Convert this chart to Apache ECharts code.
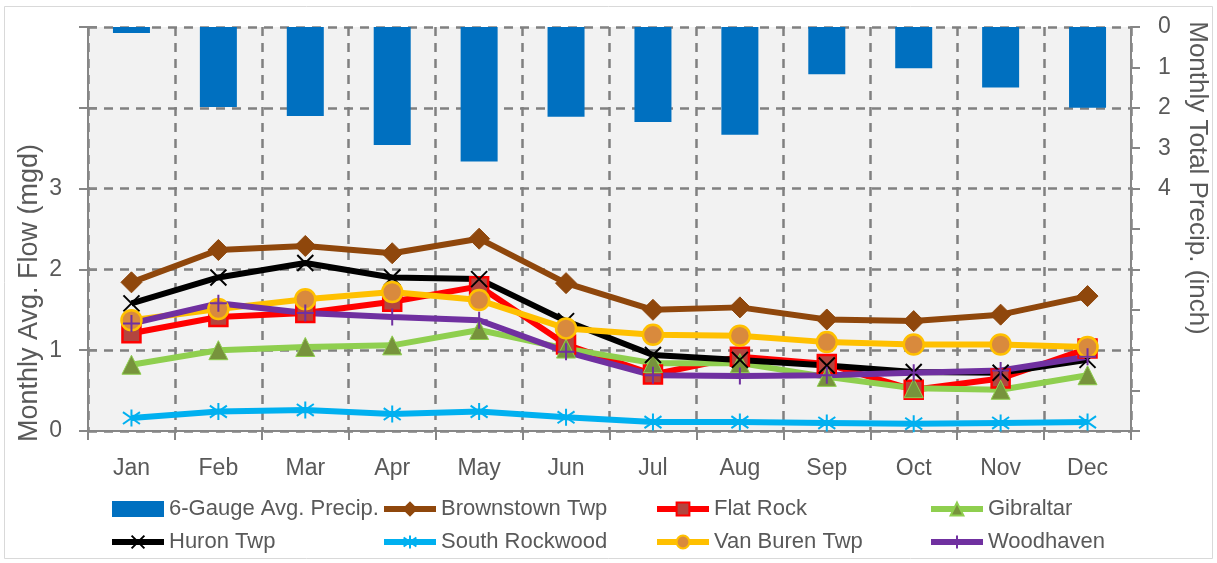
<!DOCTYPE html>
<html>
<head>
<meta charset="utf-8">
<script src="https://cdn.jsdelivr.net/npm/echarts@6/dist/echarts.min.js"></script>
<style>
  html, body { margin: 0; padding: 0; background: #ffffff; }
  #chart { width: 1217px; height: 563px; }
</style>
</head>
<body>
<div id="chart"></div>
<script>
// Months on the category axis
const months = ['Jan', 'Feb', 'Mar', 'Apr', 'May', 'Jun', 'Jul', 'Aug', 'Sep', 'Oct', 'Nov', 'Dec'];

// 6-gauge average monthly precipitation (inch), hanging from the top axis
const precip = [0.15, 1.98, 2.20, 2.92, 3.33, 2.22, 2.35, 2.67, 1.17, 1.02, 1.50, 2.00];

// Monthly average flow by community (mgd)
const brownstown    = [1.84, 2.24, 2.29, 2.20, 2.38, 1.83, 1.50, 1.53, 1.38, 1.36, 1.44, 1.67];
const flatRock      = [1.21, 1.41, 1.46, 1.60, 1.79, 1.07, 0.70, 0.92, 0.83, 0.51, 0.65, 1.02];
const gibraltar     = [0.82, 1.00, 1.04, 1.06, 1.25, 1.02, 0.84, 0.84, 0.67, 0.53, 0.51, 0.69];
const huron         = [1.58, 1.90, 2.08, 1.90, 1.88, 1.36, 0.94, 0.88, 0.81, 0.73, 0.72, 0.88];
const southRockwood = [0.16, 0.24, 0.26, 0.21, 0.24, 0.17, 0.11, 0.11, 0.10, 0.09, 0.10, 0.11];
const vanBuren      = [1.37, 1.51, 1.63, 1.72, 1.62, 1.27, 1.19, 1.18, 1.10, 1.07, 1.07, 1.04];
const woodhaven     = [1.33, 1.58, 1.46, 1.41, 1.37, 0.98, 0.69, 0.68, 0.69, 0.72, 0.75, 0.92];

// Axis tick labels that are printed
const flowTickLabels   = ['0', '1', '2', '3'];
const precipTickLabels = ['0', '1', '2', '3', '4'];

const FONT = 'Liberation Sans, Arial, sans-serif';
const TEXT = '#595959';
const AXIS = '#868686';
const GRID = '#808080';

const X_MARK = 'path://M0,0L10,10M10,0L0,10';
const STAR_MARK = 'path://M5,0L5,10M1.5,1.5L8.5,8.5M8.5,1.5L1.5,8.5';
const PLUS_MARK = 'path://M5,0L5,10M0,5L10,5';

const LINE_W = 6;

function lineSeries(name, data, lineColor, symbol, size, item) {
  return {
    name: name,
    type: 'line',
    xAxisIndex: 0,
    yAxisIndex: 0,
    data: data,
    symbol: symbol,
    symbolSize: size,
    showAllSymbol: true,
    lineStyle: { color: lineColor, width: LINE_W },
    itemStyle: item,
    emphasis: { disabled: true },
    z: 3
  };
}

const chart = echarts.init(document.getElementById('chart'), null, { renderer: 'canvas' });

const legendCommon = {
  orient: 'vertical',
  itemWidth: 52,
  itemHeight: 16,
  itemGap: 9,
  lineStyle: { width: LINE_W },
  textStyle: { fontFamily: FONT, fontSize: 22, color: TEXT, lineHeight: 24 },
  selectedMode: false,
  top: 492
};

chart.setOption({
  animation: false,
  backgroundColor: '#ffffff',
  textStyle: { fontFamily: FONT },
  grid: {
    left: 88, right: 86, top: 27, bottom: 132,
    show: true, backgroundColor: '#f2f2f2', borderWidth: 0
  },
  legend: [
    Object.assign({}, legendCommon, { left: 104, data: [{ name: '6-Gauge Avg. Precip.', icon: 'rect' }, 'Huron Twp'] }),
    Object.assign({}, legendCommon, { left: 376, data: ['Brownstown Twp', 'South Rockwood'] }),
    Object.assign({}, legendCommon, { left: 649, data: ['Flat Rock', 'Van Buren Twp'] }),
    Object.assign({}, legendCommon, { left: 923, data: ['Gibraltar', 'Woodhaven'] })
  ],
  xAxis: [{
    type: 'category',
    data: months,
    boundaryGap: true,
    axisLine: { show: true, lineStyle: { color: AXIS, width: 2 } },
    axisTick: { show: true, length: 9, lineStyle: { color: AXIS, width: 2 } },
    axisLabel: { fontFamily: FONT, fontSize: 23, color: TEXT, margin: 26 },
    splitLine: { show: true, lineStyle: { color: GRID, width: 2.5, type: [9, 7] } }
  }],
  yAxis: [
    {
      type: 'value',
      position: 'left',
      min: 0, max: 5, interval: 1,
      axisLine: { show: true, lineStyle: { color: AXIS, width: 2 } },
      axisTick: { show: true, length: 9, lineStyle: { color: AXIS, width: 2 } },
      axisLabel: {
        fontFamily: FONT, fontSize: 23, color: TEXT, margin: 26,
        formatter: function (v) { return flowTickLabels[v] !== undefined ? flowTickLabels[v] : ''; }
      },
      splitLine: { show: true, lineStyle: { color: GRID, width: 2.5, type: [9, 7] } }
    },
    {
      type: 'value',
      position: 'right',
      inverse: true,
      min: 0, max: 10, interval: 1,
      axisLine: { show: true, lineStyle: { color: AXIS, width: 2 } },
      axisTick: { show: true, length: 9, lineStyle: { color: AXIS, width: 2 } },
      axisLabel: {
        fontFamily: FONT, fontSize: 23, color: TEXT, margin: 27,
        formatter: function (v) { return precipTickLabels[v] !== undefined ? precipTickLabels[v] : ''; }
      },
      splitLine: { show: false }
    },
    {
      // inner half of the crossing ticks on the flow axis
      type: 'value',
      position: 'left',
      min: 0, max: 5, interval: 1,
      axisLine: { show: false },
      axisTick: { show: true, inside: true, length: 9, lineStyle: { color: AXIS, width: 2 } },
      axisLabel: { show: false },
      splitLine: { show: false }
    }
  ],
  series: [
    {
      name: '6-Gauge Avg. Precip.',
      type: 'bar',
      xAxisIndex: 0,
      yAxisIndex: 1,
      data: precip,
      barWidth: 37,
      itemStyle: { color: '#0070c0' },
      emphasis: { disabled: true },
      z: 2
    },
    lineSeries('Brownstown Twp', brownstown, '#8f470c', 'diamond', 21,
      { color: '#8f470c', borderColor: '#8f470c', borderWidth: 1 }),
    lineSeries('Flat Rock', flatRock, '#ff0000', 'rect', 18,
      { color: '#b3453f', borderColor: '#ff0000', borderWidth: 2.5 }),
    lineSeries('Gibraltar', gibraltar, '#8fcf4f', 'triangle', 19,
      { color: '#77933c', borderColor: '#8fcf4f', borderWidth: 1 }),
    lineSeries('Huron Twp', huron, '#000000', X_MARK, 16,
      { color: '#000000', borderColor: '#000000', borderWidth: 2 }),
    lineSeries('South Rockwood', southRockwood, '#00b0f0', STAR_MARK, 17,
      { color: '#00b0f0', borderColor: '#00b0f0', borderWidth: 2 }),
    lineSeries('Van Buren Twp', vanBuren, '#ffc000', 'circle', 20,
      { color: '#d98a3d', borderColor: '#ffc000', borderWidth: 2.5 }),
    lineSeries('Woodhaven', woodhaven, '#7030a0', PLUS_MARK, 17,
      { color: '#7030a0', borderColor: '#7030a0', borderWidth: 2 })
  ],
  graphic: [
    {
      type: 'rect',
      shape: { x: 4.5, y: 6.5, width: 1208, height: 552 },
      style: { fill: 'none', stroke: '#d9d9d9', lineWidth: 1 },
      silent: true, z: -10
    },
    {
      type: 'text',
      x: 30, y: 293,
      rotation: Math.PI / 2,
      style: {
        text: 'Monthly Avg. Flow (mgd)',
        font: '27px ' + FONT,
        fill: TEXT,
        align: 'center', verticalAlign: 'middle',
        textAlign: 'center', textVerticalAlign: 'middle'
      }
    },
    {
      type: 'text',
      x: 1197, y: 178,
      rotation: -Math.PI / 2,
      style: {
        text: 'Monthly Total Precip. (inch)',
        font: '26px ' + FONT,
        fill: TEXT,
        align: 'center', verticalAlign: 'middle',
        textAlign: 'center', textVerticalAlign: 'middle'
      }
    }
  ]
});
</script>
</body>
</html>
